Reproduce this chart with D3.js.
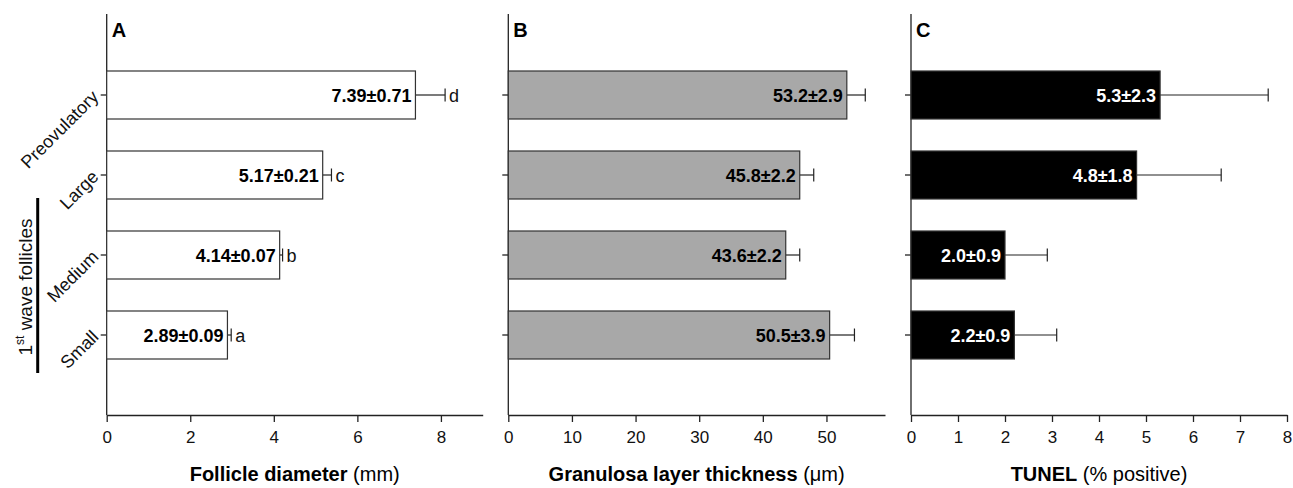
<!DOCTYPE html>
<html>
<head>
<meta charset="utf-8">
<script src="https://cdn.jsdelivr.net/npm/d3@7"></script>
<style>
  body { margin: 0; background: #fff; }
  svg { font-family: "Liberation Sans", Arial, sans-serif; }
</style>
</head>
<body>
<div id="chart"></div>
<script>
// follicle classes, top to bottom
var categories = ["Preovulatory", "Large", "Medium", "Small"];

var diameter = [7.39, 5.17, 4.14, 2.89];
var diameterSem = [0.71, 0.21, 0.07, 0.09];
var diameterLetters = ["d", "c", "b", "a"];
var diameterTicks = [0, 2, 4, 6, 8];

var thickness = [53.2, 45.8, 43.6, 50.5];
var thicknessSem = [2.9, 2.2, 2.2, 3.9];
var thicknessTicks = [0, 10, 20, 30, 40, 50];

var tunel = [5.3, 4.8, 2.0, 2.2];
var tunelSem = [2.3, 1.8, 0.9, 0.9];
var tunelTicks = [0, 1, 2, 3, 4, 5, 6, 7, 8];

function init(){
    var w = 1293;
    var h = 488;
    var top = 14, bottom = 415;

    var svg = d3.select("#chart")
            .append("svg")
            .attr("width", w)
            .attr("height", h);

    var yScale = d3.scaleBand()
        .domain(categories)
        .range([55, 375])
        .paddingInner(0.4)
        .paddingOuter(0.2);

    var panels = [
        {letter: "A", values: diameter, sem: diameterSem, letters: diameterLetters,
         ticks: diameterTicks, max: 9, range: [106.7, 482.7], fill: "#fff",
         textColor: "#000", digits: 2, title: "Follicle diameter", unit: " (mm)"},
        {letter: "B", values: thickness, sem: thicknessSem, letters: null,
         ticks: thicknessTicks, max: 59.2, range: [508.3, 885], fill: "#a8a8a8",
         textColor: "#000", digits: 1, title: "Granulosa layer thickness", unit: " (\u03bcm)"},
        {letter: "C", values: tunel, sem: tunelSem, letters: null,
         ticks: tunelTicks, max: 8, range: [911, 1287], fill: "#000",
         textColor: "#fff", digits: 1, title: "TUNEL", unit: " (% positive)"}
    ];

    panels.forEach(function(p){
        var xScale = d3.scaleLinear()
            .domain([0, p.max])
            .range(p.range);
        var x0 = xScale(0);
        var g = svg.append("g");

        // x axis
        var xAxis = g.append("g")
            .attr("transform", "translate(0," + bottom + ")")
            .call(d3.axisBottom(xScale).tickValues(p.ticks).tickSize(7).tickPadding(9).tickSizeOuter(0));
        xAxis.select(".domain").attr("stroke", "#222").attr("stroke-width", 1.3);
        xAxis.selectAll(".tick line").attr("stroke", "#222").attr("stroke-width", 1.3);
        xAxis.selectAll(".tick text")
            .attr("font-size", 17)
            .attr("font-family", "Liberation Sans, Arial, sans-serif")
            .attr("fill", "#111");

        // y axis line + ticks
        g.append("line")
            .attr("x1", x0).attr("x2", x0)
            .attr("y1", top).attr("y2", bottom)
            .attr("stroke", "#222").attr("stroke-width", 1.3);
        g.selectAll(".ytick")
            .data(categories)
            .enter()
            .append("line")
            .attr("x1", x0 - 6).attr("x2", x0)
            .attr("y1", function(d){ return yScale(d) + yScale.bandwidth()/2; })
            .attr("y2", function(d){ return yScale(d) + yScale.bandwidth()/2; })
            .attr("stroke", "#222").attr("stroke-width", 1.3);

        // error bars
        var errs = g.selectAll(".err")
            .data(p.values)
            .enter()
            .append("g");
        errs.append("line")
            .attr("x1", function(d){ return xScale(d); })
            .attr("x2", function(d, i){ return xScale(d + p.sem[i]); })
            .attr("y1", function(d, i){ return yScale(categories[i]) + yScale.bandwidth()/2; })
            .attr("y2", function(d, i){ return yScale(categories[i]) + yScale.bandwidth()/2; })
            .attr("stroke", "#222").attr("stroke-width", 1.2);
        errs.append("line")
            .attr("x1", function(d, i){ return xScale(d + p.sem[i]); })
            .attr("x2", function(d, i){ return xScale(d + p.sem[i]); })
            .attr("y1", function(d, i){ return yScale(categories[i]) + yScale.bandwidth()/2 - 6.5; })
            .attr("y2", function(d, i){ return yScale(categories[i]) + yScale.bandwidth()/2 + 6.5; })
            .attr("stroke", "#222").attr("stroke-width", 1.2);

        // bars
        g.selectAll("rect")
            .data(p.values)
            .enter()
            .append("rect")
            .attr("x", x0)
            .attr("y", function(d, i){ return yScale(categories[i]); })
            .attr("width", function(d){ return xScale(d) - x0; })
            .attr("height", yScale.bandwidth())
            .attr("fill", p.fill)
            .attr("stroke", "#333")
            .attr("stroke-width", 1.2);

        // value labels inside bars
        g.selectAll(".val")
            .data(p.values)
            .enter()
            .append("text")
            .text(function(d, i){ return d.toFixed(p.digits) + "\u00b1" + p.sem[i].toFixed(p.digits); })
            .attr("x", function(d){ return xScale(d) - 4; })
            .attr("y", function(d, i){ return yScale(categories[i]) + yScale.bandwidth()/2 + 6.5; })
            .attr("text-anchor", "end")
            .attr("font-size", 18)
            .attr("font-weight", "bold")
            .attr("fill", p.textColor);

        // significance letters
        if(p.letters){
            g.selectAll(".sig")
                .data(p.values)
                .enter()
                .append("text")
                .text(function(d, i){ return p.letters[i]; })
                .attr("x", function(d, i){ return xScale(d + p.sem[i]) + 4; })
                .attr("y", function(d, i){ return yScale(categories[i]) + yScale.bandwidth()/2 + 6.5; })
                .attr("font-size", 18)
                .attr("fill", "#111");
        }

        // panel letter
        g.append("text")
            .text(p.letter)
            .attr("x", x0 + 5)
            .attr("y", 37)
            .attr("font-size", 20)
            .attr("font-weight", "bold");

        // axis title
        var t = g.append("text")
            .attr("x", (p.range[0] + p.range[1]) / 2)
            .attr("y", 481)
            .attr("text-anchor", "middle")
            .attr("font-size", 20);
        t.append("tspan").attr("font-weight", "bold").text(p.title);
        t.append("tspan").text(p.unit);
    });

    // category labels for panel A
    var xA = 106.7;
    svg.selectAll(".cat")
        .data(categories)
        .enter()
        .append("text")
        .text(function(d){ return d; })
        .attr("text-anchor", "end")
        .attr("font-size", 18)
        .attr("fill", "#111")
        .attr("transform", function(d){
            return "translate(" + (xA - 7) + "," + (yScale(d) + yScale.bandwidth()/2 + 3) + ") rotate(-45)";
        });

    // group bracket for 1st wave follicles
    svg.append("line")
        .attr("x1", 37.7).attr("x2", 37.7)
        .attr("y1", 198).attr("y2", 373)
        .attr("stroke", "#000").attr("stroke-width", 3);
    var g1 = svg.append("text")
        .attr("transform", "translate(32,287) rotate(-90)")
        .attr("text-anchor", "middle")
        .attr("font-size", 19)
        .attr("fill", "#111");
    g1.append("tspan").text("1");
    g1.append("tspan").attr("font-size", 12).attr("dy", -8).text("st");
    g1.append("tspan").attr("dy", 8).text(" wave follicles");
}
window.onload = init;
</script>
</body>
</html>
